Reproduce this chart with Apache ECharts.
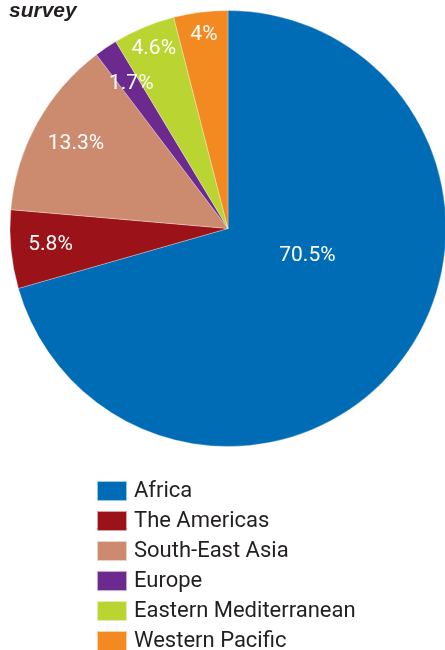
<!DOCTYPE html>
<html>
<head>
<meta charset="utf-8">
<script src="https://cdn.jsdelivr.net/npm/echarts@6/dist/echarts.min.js"></script>
<style>
html,body{margin:0;padding:0;background:#fff;}
#chart{width:445px;height:650px;}
</style>
</head>
<body>
<div id="chart"></div>
<script>
var titleText = 'survey';
var regions = ['Africa', 'The Americas', 'South-East Asia', 'Europe', 'Eastern Mediterranean', 'Western Pacific'];
var shares = [70.5, 5.8, 13.3, 1.7, 4.6, 4];
var labelTexts = ['70.5%', '5.8%', '13.3%', '1.7%', '4.6%', '4%'];

var colors = ['#016cb6', '#9b1319', '#cc8b6f', '#6c2a8e', '#bad532', '#f38921'];
var labelOffsets = [[-10, -40], [-66, 6], [-54, -31], [-34, -52], [-31, -76], [-10, -83]];

var chart = echarts.init(document.getElementById('chart'));
var data = regions.map(function (r, i) {
  return {
    name: r,
    value: shares[i],
    itemStyle: { color: colors[i] },
    label: { offset: labelOffsets[i], formatter: labelTexts[i] }
  };
});
chart.setOption({
  animation: false,
  title: {
    text: titleText,
    left: 9,
    top: 1,
    padding: 0,
    textStyle: { fontFamily: 'Liberation Sans', fontWeight: 'bold', fontStyle: 'italic', fontSize: 21, lineHeight: 21, color: '#231f20' }
  },
  legend: {
    orient: 'vertical',
    left: 96,
    top: 480,
    height: 200,
    padding: 0,
    itemWidth: 30,
    itemHeight: 20,
    itemGap: 8,
    icon: 'rect',
    selectedMode: false,
    data: regions,
    textStyle: { fontFamily: 'Roboto', fontSize: 22, lineHeight: 20, color: '#231f20', padding: [0, 0, 0, 2] }
  },
  series: [{
    type: 'pie',
    center: [228, 228.5],
    radius: 218,
    startAngle: 90,
    clockwise: true,
    avoidLabelOverlap: false,
    itemStyle: { borderColor: 'rgba(255,255,255,0.6)', borderWidth: 0.5 },
    label: {
      show: true,
      position: 'inside',
      color: '#ffffff',
      fontFamily: 'Roboto',
      fontSize: 21
    },
    labelLine: { show: false },
    emphasis: { disabled: true },
    data: data
  }]
});
</script>
</body>
</html>
